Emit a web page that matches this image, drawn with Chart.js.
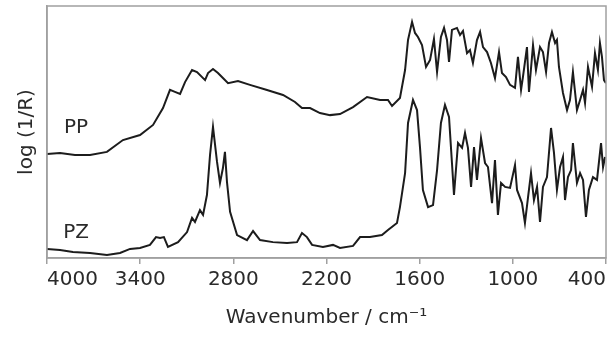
<!DOCTYPE html>
<html>
<head>
<meta charset="utf-8">
<script src="https://cdn.jsdelivr.net/npm/chart.js@4"></script>
<style>
  body { margin: 0; background: #fff; }
  #wrap { width: 615px; height: 340px; }
</style>
</head>
<body>
<div id="wrap"><canvas id="spectra"></canvas></div>
<script>
// wavenumber (cm-1) and log(1/R) (arbitrary units)
const ppWavenumber = [4000, 3916, 3820, 3723, 3614, 3511, 3401, 3317, 3253, 3208, 3176, 3143, 3111, 3066, 3034, 2982, 2963, 2931, 2899, 2867, 2834, 2770, 2693, 2583, 2480, 2403, 2358, 2306, 2242, 2177, 2113, 2029, 1939, 1855, 1804, 1778, 1727, 1694, 1675, 1649, 1630, 1611, 1585, 1559, 1533, 1508, 1488, 1463, 1443, 1424, 1411, 1392, 1360, 1340, 1321, 1295, 1276, 1257, 1231, 1211, 1192, 1166, 1141, 1115, 1089, 1070, 1044, 1018, 986, 967, 947, 935, 909, 896, 870, 851, 825, 806, 786, 767, 748, 728, 716, 703, 677, 651, 632, 613, 587, 567, 548, 535, 516, 490, 471, 452, 439, 426, 413, 400];
const ppValue = [0.413, 0.417, 0.409, 0.409, 0.421, 0.468, 0.488, 0.528, 0.595, 0.667, 0.659, 0.651, 0.698, 0.746, 0.738, 0.706, 0.734, 0.750, 0.734, 0.714, 0.694, 0.702, 0.687, 0.667, 0.647, 0.619, 0.595, 0.595, 0.575, 0.567, 0.571, 0.599, 0.639, 0.627, 0.627, 0.603, 0.635, 0.746, 0.865, 0.937, 0.893, 0.877, 0.845, 0.758, 0.786, 0.869, 0.738, 0.877, 0.913, 0.865, 0.778, 0.905, 0.913, 0.885, 0.901, 0.813, 0.825, 0.774, 0.865, 0.897, 0.837, 0.817, 0.774, 0.714, 0.817, 0.734, 0.718, 0.687, 0.675, 0.798, 0.667, 0.718, 0.837, 0.659, 0.845, 0.746, 0.837, 0.817, 0.738, 0.853, 0.897, 0.853, 0.865, 0.758, 0.655, 0.587, 0.627, 0.738, 0.587, 0.627, 0.667, 0.615, 0.758, 0.679, 0.813, 0.746, 0.853, 0.798, 0.706, 0.694];

const pzWavenumber = [4000, 3916, 3833, 3723, 3614, 3530, 3465, 3401, 3337, 3298, 3272, 3247, 3221, 3156, 3098, 3066, 3047, 3015, 2995, 2970, 2950, 2931, 2905, 2886, 2867, 2854, 2841, 2821, 2776, 2712, 2673, 2628, 2545, 2454, 2390, 2358, 2326, 2293, 2223, 2158, 2113, 2029, 1984, 1920, 1843, 1804, 1746, 1727, 1694, 1675, 1643, 1617, 1598, 1579, 1546, 1514, 1488, 1463, 1437, 1411, 1392, 1379, 1353, 1327, 1308, 1289, 1269, 1250, 1231, 1205, 1179, 1160, 1134, 1115, 1096, 1076, 1050, 1018, 986, 973, 941, 922, 902, 883, 864, 844, 825, 806, 780, 754, 735, 716, 696, 677, 664, 645, 625, 613, 587, 567, 548, 529, 510, 484, 458, 432, 419, 406];
const pzValue = [0.036, 0.032, 0.024, 0.020, 0.012, 0.020, 0.036, 0.040, 0.052, 0.083, 0.079, 0.083, 0.044, 0.063, 0.103, 0.159, 0.143, 0.190, 0.171, 0.250, 0.409, 0.520, 0.381, 0.298, 0.357, 0.421, 0.302, 0.183, 0.091, 0.071, 0.107, 0.071, 0.063, 0.060, 0.063, 0.099, 0.083, 0.052, 0.044, 0.052, 0.040, 0.048, 0.083, 0.083, 0.091, 0.111, 0.139, 0.202, 0.337, 0.536, 0.627, 0.587, 0.440, 0.270, 0.202, 0.210, 0.349, 0.536, 0.607, 0.560, 0.377, 0.250, 0.456, 0.437, 0.496, 0.437, 0.282, 0.440, 0.310, 0.476, 0.377, 0.361, 0.218, 0.389, 0.171, 0.298, 0.282, 0.278, 0.369, 0.270, 0.218, 0.139, 0.242, 0.337, 0.230, 0.282, 0.143, 0.282, 0.321, 0.516, 0.417, 0.270, 0.361, 0.401, 0.230, 0.321, 0.349, 0.456, 0.298, 0.337, 0.310, 0.163, 0.270, 0.321, 0.310, 0.456, 0.361, 0.401];

const xTicks = [400, 1000, 1600, 2200, 2800, 3400, 4000];

// sample names placed beside the left end of each trace
const seriesNames = ['PP', 'PZ'];
const namePos = [{ x: 3813, y: 0.516 }, { x: 3813, y: 0.099 }];

const toPoints = (xs, ys) => xs.map((x, i) => ({ x: x, y: ys[i] }));

const FONT = '"DejaVu Sans", sans-serif';
const INK = '#2a2a2a';
const FRAME = '#a0a0a0';

// box round the plot + the PP / PZ names
const framePlugin = {
    id: 'frame',
    afterDatasetsDraw(chart) {
        const { ctx, chartArea: a, scales } = chart;
        ctx.save();
        ctx.strokeStyle = FRAME;
        ctx.lineWidth = 1.5;
        ctx.strokeRect(a.left, a.top, a.right - a.left, a.bottom - a.top);
        ctx.fillStyle = INK;
        ctx.font = '20px ' + FONT;
        ctx.textAlign = 'center';
        ctx.textBaseline = 'middle';
        seriesNames.forEach((name, i) => {
            ctx.fillText(name, scales.x.getPixelForValue(namePos[i].x), scales.y.getPixelForValue(namePos[i].y));
        });
        ctx.restore();
    }
};

const lineStyle = {
    borderColor: '#1c1c1c',
    borderWidth: 2,
    pointRadius: 0,
    tension: 0,
    fill: false
};

new Chart(document.getElementById('spectra'), {
    type: 'line',
    data: {
        datasets: [
            Object.assign({ label: 'PP', data: toPoints(ppWavenumber, ppValue) }, lineStyle),
            Object.assign({ label: 'PZ', data: toPoints(pzWavenumber, pzValue) }, lineStyle)
        ]
    },
    options: {
        responsive: true,
        maintainAspectRatio: false,
        animation: false,
        layout: { padding: { left: 11, right: 9, top: 6, bottom: 6 } },
        plugins: {
            legend: { display: false },
            tooltip: { enabled: false }
        },
        scales: {
            x: {
                type: 'linear',
                reverse: true,
                min: 400,
                max: 4000,
                afterBuildTicks: s => { s.ticks = xTicks.map(v => ({ value: v })); },
                afterFit: s => { s.height = 76; },
                ticks: {
                    color: INK,
                    font: { family: FONT, size: 20 },
                    align: 'inner',
                    maxRotation: 0,
                    padding: 4,
                    callback: v => String(v)
                },
                grid: {
                    drawOnChartArea: false,
                    drawTicks: true,
                    tickLength: 6,
                    color: FRAME,
                    lineWidth: 1.5
                },
                border: { color: FRAME, width: 1.5 },
                title: {
                    display: true,
                    text: 'Wavenumber / cm⁻¹',
                    color: INK,
                    font: { family: FONT, size: 20 },
                    padding: { top: 4, bottom: 4 }
                }
            },
            y: {
                min: 0,
                max: 1,
                afterFit: s => { s.width = 36; },
                ticks: { display: false },
                grid: { display: false },
                border: { color: FRAME, width: 1.5 },
                title: {
                    display: true,
                    text: 'log (1/R)',
                    color: INK,
                    font: { family: FONT, size: 20 },
                    padding: { top: 4, bottom: 4 }
                }
            }
        }
    },
    plugins: [framePlugin]
});
</script>
</body>
</html>
